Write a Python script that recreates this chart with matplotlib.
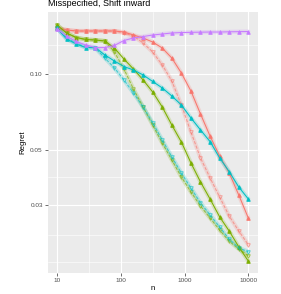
import matplotlib
matplotlib.use("Agg")
import matplotlib.pyplot as plt
from matplotlib.ticker import FixedLocator, NullFormatter

n_values = [10, 14.1, 20, 28.2, 39.8, 56.2, 79.4, 112, 158, 224, 316, 447, 631,
            891, 1259, 1778, 2512, 3548, 5012, 7079, 10000]

red_solid = [0.1532, 0.1504, 0.1490, 0.1490, 0.1490, 0.1490, 0.1490, 0.1476, 0.1436,
             0.1397, 0.1346, 0.1274, 0.1162, 0.1012, 0.0857, 0.0694, 0.0566, 0.0471,
             0.0403, 0.0329, 0.0266]
red_dashed = [0.1532, 0.1504, 0.1490, 0.1490, 0.1490, 0.1490, 0.1490, 0.1463, 0.1422,
              0.1334, 0.1228, 0.1090, 0.0940, 0.0754, 0.0588, 0.0463, 0.0385, 0.0323,
              0.0271, 0.0236, 0.0208]
green_solid = [0.1575, 0.1463, 0.1403, 0.1378, 0.1371, 0.1359, 0.1274, 0.1151, 0.1050,
               0.0949, 0.0850, 0.0740, 0.0627, 0.0536, 0.0442, 0.0371, 0.0317, 0.0269,
               0.0236, 0.0204, 0.0179]
green_dashed = [0.1575, 0.1463, 0.1403, 0.1378, 0.1371, 0.1359, 0.1228, 0.1050, 0.0873,
                0.0740, 0.0627, 0.0531, 0.0454, 0.0388, 0.0338, 0.0297, 0.0266, 0.0238,
                0.0215, 0.0200, 0.0188]
cyan_solid = [0.1532, 0.1384, 0.1322, 0.1279, 0.1279, 0.1195, 0.1130, 0.1074, 0.1040,
              0.0994, 0.0936, 0.0882, 0.0819, 0.0754, 0.0669, 0.0599, 0.0538, 0.0463,
              0.0408, 0.0354, 0.0317]
cyan_dashed = [0.1532, 0.1397, 0.1328, 0.1285, 0.1274, 0.1162, 0.1060, 0.0949, 0.0842,
               0.0740, 0.0639, 0.0546, 0.0467, 0.0403, 0.0351, 0.0306, 0.0274, 0.0245,
               0.0219, 0.0202, 0.0195]
purple_solid = [0.1518, 0.1422, 0.1353, 0.1310, 0.1279, 0.1279, 0.1304, 0.1365, 0.1397,
                0.1416, 0.1436, 0.1449, 0.1463, 0.1469, 0.1472, 0.1474, 0.1476, 0.1476,
                0.1479, 0.1481, 0.1483]

x_ticks = [10, 100, 1000, 10000]
x_tick_labels = ["10", "100", "1000", "10000"]
y_ticks = [0.03, 0.05, 0.10]
y_tick_labels = ["0.03", "0.05", "0.10"]
x_minor = [31.6, 316, 3162]
y_minor = [0.0177, 0.0228, 0.0387, 0.0710, 0.1307]

RED, GREEN, CYAN, PURPLE = "#F8766D", "#7CAE00", "#00BFC4", "#C77CFF"

series = [
    (red_dashed, RED, "--", "v", False),
    (red_solid, RED, "-", "^", True),
    (green_dashed, GREEN, "--", "v", False),
    (green_solid, GREEN, "-", "^", True),
    (cyan_dashed, CYAN, "--", "v", False),
    (cyan_solid, CYAN, "-", "^", True),
    (purple_solid, PURPLE, "-", "^", True),
]

plt.rcParams['font.family'] = ['Liberation Sans', 'DejaVu Sans']

fig = plt.figure(figsize=(2.81, 2.94), dpi=100)
ax = fig.add_axes([47.7 / 281, 21 / 294, (258 - 47.7) / 281, (273 - 12) / 294])
ax.set_facecolor("#EBEBEB")
ax.set_xscale("log")
ax.set_yscale("log")
ax.set_xlim(7.14, 14190)
ax.set_ylim(0.01603, 0.1775)

for v in x_minor:
    ax.axvline(v, color="white", lw=0.4, zorder=0.5)
for v in y_minor:
    ax.axhline(v, color="white", lw=0.4, zorder=0.5)
for v in x_ticks:
    ax.axvline(v, color="white", lw=0.8, zorder=0.6)
for v in y_ticks:
    ax.axhline(v, color="white", lw=0.8, zorder=0.6)

for vals, col, ls, mk, filled in series:
    alpha = 1.0 if filled else 0.65
    ax.plot(n_values, vals, color=col, lw=3.0, alpha=0.2, solid_capstyle="round", zorder=2)
    ax.plot(n_values, vals, color=col, lw=0.75, ls=(0, (3, 1.5)) if ls == "--" else "-",
            alpha=alpha, marker=mk, markersize=2.6,
            markerfacecolor=col if filled else "none", markeredgecolor=col,
            markeredgewidth=0.6, zorder=3)

ax.xaxis.set_major_locator(FixedLocator(x_ticks))
ax.set_xticklabels(x_tick_labels)
ax.xaxis.set_minor_locator(FixedLocator([]))
ax.xaxis.set_minor_formatter(NullFormatter())
ax.yaxis.set_major_locator(FixedLocator(y_ticks))
ax.set_yticklabels(y_tick_labels)
ax.yaxis.set_minor_locator(FixedLocator([]))
ax.yaxis.set_minor_formatter(NullFormatter())

ax.tick_params(axis="both", which="major", length=2, width=0.5, color="#333333",
               labelsize=4.6, labelcolor="#4D4D4D", pad=1.5)
for s in ax.spines.values():
    s.set_visible(False)

ax.set_xlabel("n", fontsize=5.6, color="black", labelpad=1.5)
ax.set_ylabel("Regret", fontsize=5.6, color="black", labelpad=3)
fig.text(47.7 / 281, 1 - 4 / 294, "Misspecified, Shift inward", fontsize=6.5,
         ha="left", va="center", color="black")

fig.savefig("out.png", dpi=100)
